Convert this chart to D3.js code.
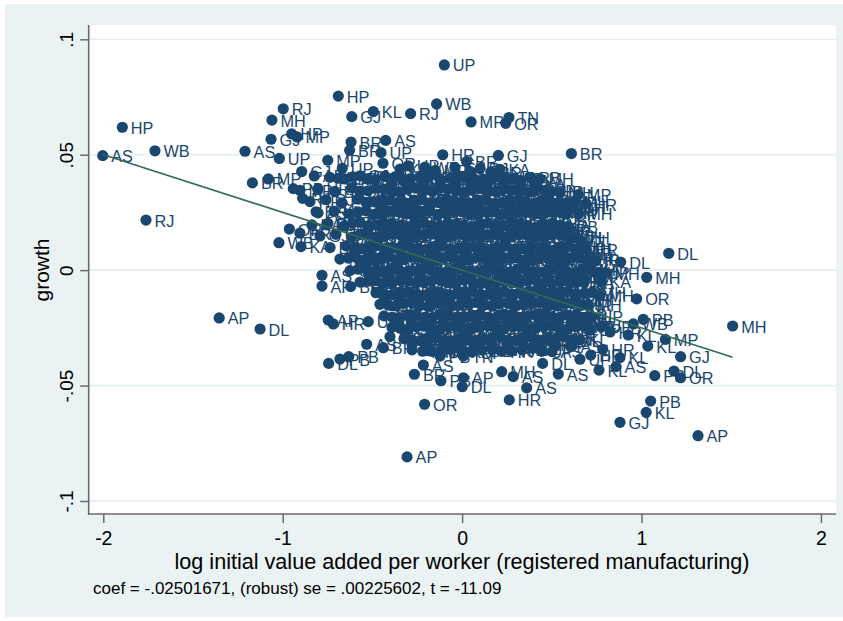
<!DOCTYPE html>
<html>
<head>
<meta charset="utf-8">
<script src="https://cdn.jsdelivr.net/npm/d3@7"></script>
<style>
  body { margin: 0; background: #fff; }
  text { font-family: "Liberation Sans", Arial, Helvetica, sans-serif; }
</style>
</head>
<body>
<svg id="chart" width="843" height="621"></svg>
<script>
// axis ticks
var xTicks = [-2, -1, 0, 1, 2];
var yTicks = [-.1, -.05, 0, .05, .1];
var yTickLabels = ["-.1", "-.05", "0", ".05", ".1"];

// fitted line (avplot)
var coef = -.02501671;
var fitRange = [-2.003, 1.508];
var noteText = "coef = -.02501671, (robust) se = .00225602, t = -11.09";

// outlying points, read one by one: [x, growth, state]
var outerPoints = [
  [-2.003, .0496, "AS"], [-1.894, .0619, "HP"], [-1.712, .0517, "WB"], [-1.762, .0217, "RJ"],
  [-1.210, .0515, "AS"], [-1.354, -.0207, "AP"], [-1.126, -.0255, "DL"], [-.307, -.0809, "AP"],
  [-.209, -.0581, "OR"], [-.099, .0889, "UP"], [-.690, .0754, "HP"], [-.997, .0699, "RJ"],
  [-1.060, .0650, "MH"], [-.615, .0665, "GJ"], [-.495, .0687, "KL"], [-.287, .0678, "RJ"],
  [-1.065, .0567, "GJ"], [-.920, .0577, "MP"], [-.950, .0590, "HP"], [-1.019, .0484, "UP"],
  [-.749, .0476, "MP"], [-.619, .0555, "BR"], [-.426, .0562, "AS"], [-.627, .0519, "BR"],
  [-.452, .0509, "UP"], [-.441, .0463, "OR"], [-.894, .0427, "GJ"], [-.824, .0408, "AP"],
  [-.668, .0441, "UP"], [-1.080, .0395, "MP"], [-1.169, .0378, "BR"], [-.941, .0353, "PB"],
  [-.889, .0311, "RJ"], [-.814, .0253, "BR"], [-.963, .0178, "OR"], [-.904, .0160, "BR"],
  [-.755, .0196, "RJ"], [-1.021, .0119, "WB"], [-.898, .0102, "KA"], [-.142, .0720, "WB"],
  [.050, .0642, "MP"], [.261, .0661, "TN"], [.243, .0636, "OR"], [-.108, .0500, "HR"],
  [.202, .0497, "GJ"], [.609, .0505, "BR"], [.025, .0470, "BR"], [.648, .0327, "MP"],
  [.553, .0249, "MH"], [.516, .0175, "HR"], [.663, .0128, "DL"], [-.207, .0446, "WB"],
  [1.152, .0073, "DL"], [.884, .0035, "DL"], [1.029, -.0031, "MH"], [.774, -.0051, "KA"],
  [.973, -.0124, "OR"], [1.508, -.0242, "MH"], [1.010, -.0213, "PB"], [.954, -.0233, "WB"],
  [.926, -.0281, "KL"], [1.133, -.0300, "MP"], [1.035, -.0329, "KL"], [1.218, -.0375, "GJ"],
  [1.181, -.0437, "DL"], [1.218, -.0466, "OR"], [1.074, -.0457, "PB"], [.784, -.0343, "HR"],
  [.717, -.0368, "HR"], [.657, -.0386, "UP"], [.880, -.0379, "KL"], [.858, -.0418, "AS"],
  [.536, -.0450, "AS"], [.763, -.0433, "KL"], [.449, -.0404, "DL"], [.774, -.0245, "UP"],
  [1.051, -.0567, "PB"], [1.026, -.0616, "KL"], [.880, -.0659, "GJ"], [1.315, -.0717, "AP"],
  [-.781, -.0022, "AS"], [-.781, -.0069, "AP"], [-.621, -.0071, "BR"], [-.746, -.0216, "AP"],
  [-.718, -.0233, "HR"], [-.523, -.0223, "UP"], [-.744, -.0404, "DL"], [-.681, -.0385, "PB"],
  [-.632, -.0375, "PB"], [-.532, -.0321, "AS"], [-.439, -.0336, "BR"], [-.402, -.0288, "DL"],
  [-.216, -.0411, "AS"], [-.266, -.0451, "BR"], [-.118, -.0479, "PB"], [.007, -.0466, "AP"],
  [.001, -.0505, "DL"], [-.186, -.0349, "UP"], [-.123, -.0372, "PB"], [.007, -.0372, "TN"],
  [.263, -.0562, "HR"], [.221, -.0440, "MH"], [.285, -.0461, "AS"], [.360, -.0510, "AS"],
  [-.569, .0035, "PB"], [-.525, -.0008, "HR"], [-.458, -.0094, "AS"], [.613, .0273, "MH"],
  [.472, .0282, "UP"], [.825, -.0268, "HR"], [.713, -.0259, "UP"]
];

// the dense middle of the cloud, estimated row by row: [x, growth, state]
var cloudPoints = [
  [-.346, .0438, "KA"], [-.300, .0452, "UP"], [-.150, .0432, "MP"], [-.040, .0445, "GJ"], [.044, .0428, "UP"],
  [.100, .0441, "RJ"], [.160, .0425, "BR"], [.211, .0437, "KA"],
  [-.737, .0402, "UP"], [-.653, .0396, "OR"], [-.570, .0409, "GJ"], [-.486, .0391, "WB"], [-.375, .0404, "HR"],
  [-.291, .0396, "PB"], [-.180, .0410, "KA"], [-.068, .0398, "MH"], [.016, .0405, "DL"], [.127, .0392, "AP"],
  [.239, .0401, "UP"], [.322, .0389, "KA"], [.434, .0396, "MH"],
  [-.390, .0372, "UP"], [-.212, .0378, "AS"], [-.034, .0370, "MH"], [.144, .0376, "KA"], [.323, .0368, "BR"],
  [-.904, .0346, "MP"], [-.803, .0352, "HR"], [-.709, .0341, "BR"], [-.614, .0356, "UP"], [-.525, .0344, "AS"],
  [-.435, .0351, "MP"], [-.346, .0339, "OR"], [-.257, .0355, "KL"], [-.168, .0343, "TN"], [-.079, .0351, "GJ"],
  [.011, .0338, "HP"], [.100, .0354, "RJ"], [.189, .0342, "WB"], [.278, .0349, "PB"], [.367, .0337, "MH"],
  [.462, .0346, "UP"], [.546, .0335, "MH"],
  [-.848, .0297, "HP"], [-.759, .0305, "RJ"], [-.669, .0292, "PB"], [-.580, .0308, "KA"], [-.491, .0296, "GJ"],
  [-.402, .0303, "AP"], [-.313, .0290, "DL"], [-.224, .0306, "BR"], [-.134, .0294, "UP"], [-.045, .0301, "AS"],
  [.044, .0289, "MH"], [.134, .0304, "OR"], [.222, .0293, "KA"], [.312, .0302, "WB"], [.401, .0288, "TN"],
  [.490, .0299, "HR"], [.580, .0291, "UP"], [.685, .0286, "HR"],
  [-.446, .0272, "MH"], [-.268, .0278, "GJ"], [-.090, .0270, "WB"], [.089, .0276, "PB"], [.267, .0271, "UP"],
  [.445, .0277, "MP"],
  [-.803, .0248, "AS"], [-.714, .0255, "KL"], [-.625, .0243, "HR"], [-.536, .0257, "TN"], [-.446, .0246, "BR"],
  [-.357, .0253, "PB"], [-.268, .0241, "RJ"], [-.179, .0256, "MP"], [-.090, .0244, "DL"], [.000, .0252, "GJ"],
  [.089, .0239, "AS"], [.178, .0254, "KL"], [.267, .0246, "MP"], [.356, .0251, "BR"], [.445, .0240, "AP"],
  [.535, .0255, "OR"], [.650, .0244, "MH"],
  [-.837, .0196, "KA"], [-.748, .0203, "DL"], [-.658, .0191, "MH"], [-.569, .0207, "RJ"], [-.480, .0195, "OR"],
  [-.391, .0202, "HP"], [-.302, .0189, "KA"], [-.212, .0205, "WB"], [-.123, .0193, "HR"], [-.034, .0201, "PB"],
  [.055, .0188, "UP"], [.144, .0204, "MH"], [.234, .0192, "GJ"], [.323, .0199, "DL"], [.412, .0186, "KA"],
  [.501, .0203, "RJ"], [.590, .0190, "PB"],
  [-.525, .0172, "AP"], [-.346, .0178, "MH"], [-.168, .0170, "DL"], [.011, .0176, "KA"], [.189, .0168, "OR"],
  [.367, .0174, "MH"], [.546, .0171, "UP"],
  [-.792, .0148, "GJ"], [-.703, .0155, "UP"], [-.614, .0143, "AS"], [-.525, .0157, "MP"], [-.435, .0146, "KL"],
  [-.346, .0153, "DL"], [-.257, .0141, "TN"], [-.168, .0156, "OR"], [-.079, .0144, "AP"], [.011, .0152, "KA"],
  [.100, .0139, "BR"], [.189, .0154, "UP"], [.278, .0143, "HR"], [.367, .0150, "MP"], [.456, .0138, "GJ"],
  [.546, .0152, "WB"], [.635, .0141, "MH"],
  [-.736, .0098, "BR"], [-.647, .0105, "MP"], [-.558, .0093, "UP"], [-.469, .0107, "AP"], [-.380, .0095, "GJ"],
  [-.290, .0102, "RJ"], [-.201, .0090, "MH"], [-.112, .0106, "KL"], [-.023, .0094, "UP"], [.066, .0101, "DL"],
  [.156, .0089, "OR"], [.245, .0104, "AS"], [.334, .0092, "KA"], [.423, .0099, "PB"], [.512, .0087, "MH"],
  [.602, .0103, "MH"], [.691, .0090, "HR"],
  [-.602, .0072, "GJ"], [-.424, .0078, "TN"], [-.246, .0070, "PB"], [-.068, .0077, "MP"], [.111, .0071, "BR"],
  [.289, .0076, "HR"], [.468, .0069, "AS"], [.646, .0074, "MH"],
  [-.681, .0048, "RJ"], [-.591, .0055, "AS"], [-.502, .0043, "KA"], [-.413, .0057, "HR"], [-.324, .0045, "WB"],
  [-.235, .0052, "UP"], [-.145, .0040, "BR"], [-.056, .0055, "AP"], [.033, .0043, "TN"], [.122, .0051, "GJ"],
  [.211, .0039, "PB"], [.300, .0053, "KL"], [.390, .0042, "OR"], [.479, .0049, "UP"], [.568, .0037, "MH"],
  [.657, .0053, "MH"], [.746, .0041, "KL"],
  [-.625, -.0002, "OR"], [-.536, .0006, "BR"], [-.446, -.0006, "MP"], [-.357, .0007, "AS"], [-.268, -.0004, "DL"],
  [-.179, .0003, "KA"], [-.090, -.0009, "GJ"], [.000, .0005, "UP"], [.089, -.0007, "HR"], [.178, .0002, "WB"],
  [.267, -.0010, "RJ"], [.356, .0004, "MH"], [.445, -.0008, "AP"], [.535, .0001, "PB"], [.624, -.0011, "MH"],
  [.713, .0003, "KA"], [.802, -.0013, "MH"],
  [-.502, -.0028, "KL"], [-.324, -.0022, "RJ"], [-.145, -.0030, "UP"], [.033, -.0024, "DL"], [.211, -.0029, "GJ"],
  [.390, -.0021, "KA"], [.568, -.0027, "MH"],
  [-.569, -.0052, "WB"], [-.480, -.0045, "GJ"], [-.391, -.0058, "KL"], [-.302, -.0047, "UP"], [-.212, -.0055, "BR"],
  [-.123, -.0043, "MP"], [-.034, -.0057, "OR"], [.055, -.0046, "AS"], [.144, -.0060, "KA"], [.234, -.0049, "HP"],
  [.323, -.0056, "DL"], [.412, -.0044, "GJ"], [.501, -.0059, "UP"], [.590, -.0047, "OR"], [.680, -.0054, "KA"],
  [-.480, -.0098, "KA"], [-.391, -.0106, "AP"], [-.302, -.0094, "HR"], [-.212, -.0108, "GJ"], [-.123, -.0096, "PB"],
  [-.034, -.0103, "MH"], [.055, -.0091, "BR"], [.144, -.0105, "UP"], [.234, -.0093, "AS"], [.323, -.0101, "MP"],
  [.412, -.0089, "WB"], [.501, -.0104, "KL"], [.590, -.0092, "HR"], [.680, -.0100, "GJ"], [.769, -.0110, "MH"],
  [-.435, -.0128, "OR"], [-.257, -.0122, "MH"], [-.079, -.0130, "AP"], [.100, -.0124, "KL"], [.278, -.0129, "BR"],
  [.456, -.0121, "UP"], [.635, -.0127, "MH"],
  [-.458, -.0148, "DL"], [-.368, -.0155, "MP"], [-.279, -.0143, "BR"], [-.190, -.0157, "KA"], [-.101, -.0145, "AS"],
  [-.012, -.0152, "UP"], [.078, -.0140, "RJ"], [.167, -.0156, "DL"], [.256, -.0144, "OR"], [.345, -.0151, "GJ"],
  [.434, -.0139, "MH"], [.523, -.0154, "AP"], [.613, -.0143, "KA"], [.702, -.0150, "MH"],
  [-.435, -.0198, "AS"], [-.346, -.0206, "GJ"], [-.257, -.0193, "WB"], [-.168, -.0207, "OR"], [-.079, -.0195, "KL"],
  [.011, -.0203, "MH"], [.100, -.0190, "PB"], [.189, -.0205, "AP"], [.278, -.0192, "UP"], [.367, -.0200, "KA"],
  [.456, -.0188, "DL"], [.546, -.0204, "HR"], [.635, -.0193, "BR"], [.724, -.0201, "UP"],
  [-.368, -.0228, "HR"], [-.190, -.0222, "UP"], [-.012, -.0230, "AS"], [.167, -.0224, "GJ"], [.345, -.0229, "PB"],
  [.523, -.0221, "MH"], [.702, -.0227, "KL"],
  [-.391, -.0248, "MP"], [-.302, -.0256, "UP"], [-.212, -.0243, "DL"], [-.123, -.0257, "HR"], [-.034, -.0246, "GJ"],
  [.055, -.0253, "KA"], [.144, -.0241, "AS"], [.234, -.0255, "MP"], [.323, -.0244, "OR"], [.412, -.0251, "MH"],
  [.501, -.0239, "UP"], [.590, -.0254, "KL"], [.680, -.0243, "HR"],
  [-.324, -.0297, "PB"], [-.235, -.0305, "KA"], [-.145, -.0292, "MH"], [-.056, -.0306, "AS"], [.033, -.0294, "RJ"],
  [.122, -.0302, "MH"], [.211, -.0290, "UP"], [.300, -.0304, "BR"], [.390, -.0293, "GJ"], [.479, -.0299, "DL"],
  [.568, -.0288, "HR"], [.657, -.0302, "KL"],
  [-.279, -.0322, "MH"], [-.101, -.0328, "KA"], [.078, -.0321, "DL"], [.256, -.0327, "UP"], [.434, -.0323, "HR"],
  [.613, -.0329, "AS"],
  [-.279, -.0345, "PB"], [-.168, -.0352, "AP"], [-.056, -.0341, "BR"], [.055, -.0355, "UP"], [.167, -.0343, "MH"],
  [.278, -.0350, "KA"], [.390, -.0339, "DL"], [.501, -.0353, "AS"]
];

// extra points where the core of the cloud is solid: [x, growth, state]
var corePoints = [
  [-.300, .0376, "MP"], [-.120, .0371, "GJ"], [.055, .0379, "UP"], [.233, .0373, "BR"], [.410, .0369, "KA"],
  [-.357, .0274, "HR"], [-.179, .0279, "DL"], [.000, .0271, "MH"], [.178, .0277, "AS"], [.356, .0272, "OR"],
  [.535, .0278, "MH"],
  [-.435, .0176, "WB"], [-.257, .0171, "UP"], [-.079, .0178, "GJ"], [.100, .0173, "KA"], [.278, .0177, "PB"],
  [.456, .0170, "HR"],
  [-.513, .0076, "DL"], [-.335, .0071, "MP"], [-.157, .0078, "AS"], [.022, .0072, "OR"], [.200, .0077, "KL"],
  [.378, .0070, "UP"], [.557, .0075, "MH"],
  [-.413, -.0022, "GJ"], [-.235, -.0028, "BR"], [-.056, -.0021, "KA"], [.122, -.0027, "MP"], [.300, -.0023, "AS"],
  [.479, -.0029, "HR"], [.657, -.0024, "MH"],
  [-.346, -.0122, "UP"], [-.168, -.0128, "DL"], [.011, -.0121, "GJ"], [.189, -.0127, "MH"], [.367, -.0123, "OR"],
  [.546, -.0129, "KA"],
  [-.279, -.0223, "AP"], [-.101, -.0229, "MH"], [.078, -.0221, "UP"], [.256, -.0227, "DL"], [.434, -.0224, "BR"],
  [.613, -.0228, "HR"],
  [-.190, -.0324, "KL"], [-.012, -.0329, "MP"], [.167, -.0322, "GJ"], [.345, -.0328, "AS"], [.523, -.0325, "UP"]
];

// points between the row points above, where the reference shows no white
var fillPoints = [
  [-.690, .0398, "KA"], [-.610, .0404, "UP"], [-.530, .0395, "MH"], [-.430, .0407, "GJ"], [-.330, .0393, "BR"],
  [-.235, .0402, "OR"], [-.125, .0396, "HR"], [-.020, .0408, "KL"], [.070, .0394, "MP"], [.180, .0403, "DL"],
  [.280, .0395, "AS"], [.380, .0401, "PB"],
  [-.570, .0342, "DL"], [-.480, .0355, "HR"],
  [-.390, .0341, "RJ"], [-.300, .0352, "AS"], [-.210, .0345, "MP"], [-.120, .0356, "UP"], [-.035, .0343, "KA"],
  [.055, .0350, "OR"], [.145, .0339, "MH"], [.235, .0353, "GJ"], [.320, .0344, "DL"], [.410, .0351, "BR"],
  [.500, .0340, "HR"],
  [-.535, .0293, "AS"], [-.445, .0306, "KL"],
  [-.355, .0294, "GJ"], [-.270, .0303, "MP"], [-.180, .0291, "KA"], [-.090, .0305, "HR"], [.000, .0296, "DL"],
  [.090, .0303, "BR"], [.180, .0290, "UP"], [.265, .0304, "AP"], [.355, .0295, "MH"], [.445, .0301, "KA"],
  [.535, .0292, "GJ"], [.630, .0299, "MH"],
  [-.580, .0253, "HR"], [-.490, .0242, "MP"], [-.400, .0255, "DL"],
  [-.310, .0245, "KA"], [-.225, .0252, "OR"], [-.135, .0240, "GJ"], [-.045, .0254, "UP"], [.045, .0247, "RJ"],
  [.135, .0251, "BR"], [.220, .0241, "MH"], [.310, .0253, "KA"], [.400, .0245, "HR"], [.490, .0252, "DL"],
  [.580, .0243, "UP"],
  [-.610, .0205, "BR"], [-.525, .0192, "KL"], [-.435, .0203, "UP"],
  [-.345, .0195, "MH"], [-.255, .0206, "DL"], [-.170, .0193, "AP"], [-.080, .0204, "KA"], [.010, .0191, "GJ"],
  [.100, .0202, "HR"], [.190, .0196, "OR"], [.280, .0205, "UP"], [.365, .0193, "MP"], [.455, .0201, "MH"],
  [.545, .0194, "KA"],
  [-.570, .0154, "HR"], [-.480, .0143, "GJ"], [-.390, .0156, "AS"],
  [-.300, .0144, "UP"], [-.210, .0153, "BR"], [-.125, .0142, "MH"], [-.035, .0155, "DL"], [.055, .0146, "MP"],
  [.145, .0153, "KL"], [.235, .0141, "KA"], [.320, .0154, "UP"], [.410, .0145, "OR"], [.500, .0152, "HR"],
  [.590, .0143, "MH"],
  [-.600, .0096, "AP"], [-.515, .0104, "DL"], [-.425, .0093, "MH"], [-.335, .0106, "KA"],
  [-.245, .0095, "UP"], [-.155, .0103, "GJ"], [-.070, .0092, "BR"], [.020, .0105, "AS"], [.110, .0094, "HR"],
  [.200, .0102, "MP"], [.290, .0091, "UP"], [.380, .0104, "MH"], [.465, .0096, "DL"], [.555, .0103, "KA"],
  [.645, .0094, "MH"],
  [-.635, .0052, "KL"], [-.545, .0045, "MP"], [-.455, .0054, "UP"], [-.370, .0043, "DL"], [-.280, .0056, "GJ"],
  [-.190, .0044, "KA"], [-.100, .0053, "MH"], [-.010, .0042, "OR"], [.080, .0055, "UP"], [.165, .0046, "AS"],
  [.255, .0053, "BR"], [.345, .0044, "HR"], [.435, .0054, "KA"], [.525, .0043, "MH"], [.610, .0052, "UP"],
  [.700, .0045, "HR"],
  [-.580, .0004, "MH"], [-.490, -.0005, "KA"], [-.400, .0006, "UP"], [-.310, -.0007, "BR"], [-.225, .0005, "MP"],
  [-.135, -.0006, "DL"], [-.045, .0007, "KA"], [.045, -.0004, "GJ"], [.135, .0006, "MH"], [.220, -.0008, "UP"],
  [.310, .0005, "KL"], [.400, -.0006, "HR"], [.490, .0004, "DL"], [.580, -.0007, "KA"], [.670, .0003, "MH"],
  [.760, -.0009, "UP"],
  [-.525, -.0048, "DL"], [-.435, -.0055, "UP"], [-.345, -.0044, "MH"], [-.255, -.0056, "KA"], [-.170, -.0046, "GJ"],
  [-.080, -.0054, "BR"], [.010, -.0043, "HR"], [.100, -.0057, "UP"], [.190, -.0045, "MP"], [.280, -.0055, "KA"],
  [.365, -.0046, "MH"], [.455, -.0056, "AS"], [.545, -.0044, "UP"], [.635, -.0053, "HR"],
  [-.435, -.0103, "MP"], [-.345, -.0095, "DL"], [-.255, -.0105, "KA"], [-.170, -.0093, "UP"], [-.080, -.0106, "HR"],
  [.010, -.0094, "GJ"], [.100, -.0104, "MH"], [.190, -.0092, "KL"], [.280, -.0106, "UP"], [.365, -.0095, "BR"],
  [.455, -.0103, "MH"], [.545, -.0093, "DL"], [.635, -.0105, "UP"], [.725, -.0096, "MH"],
  [-.410, -.0152, "UP"], [-.325, -.0144, "KA"], [-.235, -.0154, "MH"], [-.145, -.0143, "DL"], [-.055, -.0156, "GJ"],
  [.035, -.0145, "HR"], [.120, -.0153, "UP"], [.210, -.0142, "KA"], [.300, -.0155, "MP"], [.390, -.0144, "BR"],
  [.480, -.0153, "UP"], [.570, -.0145, "MH"], [.660, -.0154, "HR"],
  [-.390, -.0203, "KA"], [-.300, -.0194, "MH"], [-.210, -.0204, "UP"], [-.125, -.0192, "HR"], [-.035, -.0205, "DL"],
  [.055, -.0195, "UP"], [.145, -.0203, "KA"], [.235, -.0193, "MH"], [.320, -.0206, "GJ"], [.410, -.0194, "UP"],
  [.500, -.0202, "BR"], [.590, -.0195, "MH"], [.680, -.0204, "KL"],
  [-.345, -.0252, "AS"], [-.255, -.0245, "MH"], [-.170, -.0254, "UP"], [-.080, -.0243, "KA"], [.010, -.0255, "DL"],
  [.100, -.0246, "MH"], [.190, -.0253, "UP"], [.280, -.0242, "HR"], [.365, -.0254, "KA"], [.455, -.0245, "GJ"],
  [.545, -.0252, "UP"], [.635, -.0244, "MH"],
  [-.280, -.0302, "UP"], [-.190, -.0295, "DL"], [-.100, -.0304, "KA"], [-.010, -.0293, "MH"], [.080, -.0305, "UP"],
  [.165, -.0294, "HR"], [.255, -.0303, "KA"], [.345, -.0292, "MP"], [.435, -.0304, "UP"], [.525, -.0295, "MH"],
  [.610, -.0303, "DL"],
  [-.220, -.0351, "MH"], [-.110, -.0344, "UP"], [.000, -.0353, "KA"], [.110, -.0346, "DL"], [.220, -.0352, "HR"],
  [.335, -.0345, "MH"], [.445, -.0351, "UP"]
];

var navy = "#1a476f";
var axisGray = "#6b6b6b";

var svg = d3.select("#chart");

// outer graph region and white plot region
svg.append("rect").attr("x", 5).attr("y", 4).attr("width", 838).attr("height", 613).attr("fill", "#eaf2f3");
svg.append("rect").attr("x", 88.7).attr("y", 25).attr("width", 836 - 88.7).attr("height", 514 - 25).attr("fill", "#fff");

var x = d3.scaleLinear().domain([-2, 2]).range([103.3, 820.9]);
var y = d3.scaleLinear().domain([-.1, .1]).range([501, 39.3]);

// horizontal grid lines
svg.append("g").selectAll("line")
  .data(yTicks)
  .join("line")
  .attr("x1", 88.7).attr("x2", 836)
  .attr("y1", d => y(d)).attr("y2", d => y(d))
  .attr("stroke", "#e4edef").attr("stroke-width", 1.6);

// y axis
var yAxis = svg.append("g")
  .attr("transform", "translate(88.7,0)")
  .call(d3.axisLeft(y).tickValues(yTicks).tickSize(8.5)
    .tickFormat((d, i) => yTickLabels[i]));
yAxis.select(".domain").remove();
yAxis.selectAll("line").attr("stroke", axisGray).attr("stroke-width", 1.5);
yAxis.selectAll("text")
  .attr("x", null).attr("dy", null)
  .attr("transform", "translate(-16,0) rotate(-90)")
  .attr("text-anchor", "middle")
  .attr("fill", "#000")
  .style("font-size", "19px")
  .style("font-family", "'Liberation Sans', Arial, sans-serif");

// x axis
var xAxis = svg.append("g")
  .attr("transform", "translate(0,514)")
  .call(d3.axisBottom(x).tickValues(xTicks).tickSize(9).tickFormat(d => String(d)));
xAxis.select(".domain").remove();
xAxis.selectAll("line").attr("stroke", axisGray).attr("stroke-width", 1.5);
xAxis.selectAll("text")
  .attr("y", 31).attr("dy", null)
  .attr("fill", "#000")
  .style("font-size", "19.5px")
  .style("font-family", "'Liberation Sans', Arial, sans-serif");

// axis lines across the whole plot region
svg.append("line").attr("x1", 88.7).attr("x2", 88.7).attr("y1", 25).attr("y2", 514.7)
  .attr("stroke", axisGray).attr("stroke-width", 1.6);
svg.append("line").attr("x1", 88).attr("x2", 836).attr("y1", 514).attr("y2", 514)
  .attr("stroke", axisGray).attr("stroke-width", 1.6);

// markers with their state labels
var allPoints = fillPoints.concat(cloudPoints, corePoints, outerPoints);
var pts = svg.append("g").selectAll("g")
  .data(allPoints)
  .join("g")
  .attr("transform", d => "translate(" + x(d[0]) + "," + y(d[1]) + ")");
pts.append("circle").attr("r", 5.6).attr("fill", navy);
pts.append("text")
  .attr("x", 8.5).attr("y", 6.5)
  .attr("fill", navy)
  .style("font-size", "16.3px")
  .text(d => d[2]);

// fitted regression line
svg.append("line")
  .attr("x1", x(fitRange[0])).attr("y1", y(coef * fitRange[0]))
  .attr("x2", x(fitRange[1])).attr("y2", y(coef * fitRange[1]))
  .attr("stroke", "#2f6b55").attr("stroke-width", 1.7);

// titles and note
svg.append("text")
  .attr("transform", "translate(49,270) rotate(-90)")
  .attr("text-anchor", "middle")
  .style("font-size", "21px")
  .text("growth");
svg.append("text")
  .attr("x", 462).attr("y", 569)
  .attr("text-anchor", "middle")
  .style("font-size", "21.6px")
  .text("log initial value added per worker (registered manufacturing)");
svg.append("text")
  .attr("x", 93).attr("y", 594)
  .style("font-size", "17px")
  .text(noteText);
</script>
</body>
</html>
